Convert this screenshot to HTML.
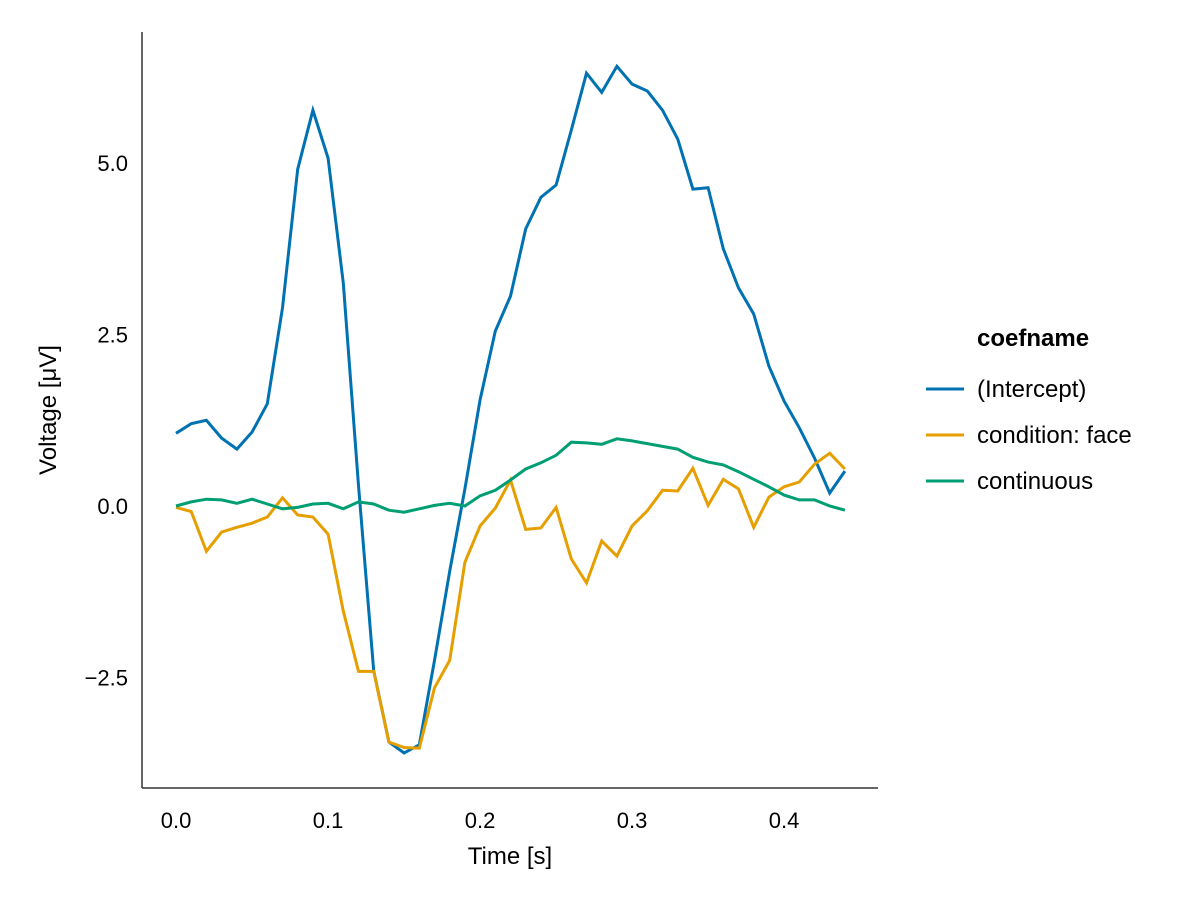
<!DOCTYPE html>
<html><head><meta charset="utf-8"><style>
body{margin:0;background:#fff;font-family:"Liberation Sans",sans-serif}
svg text{font-family:"Liberation Sans",sans-serif;fill:#000}
</style></head><body>
<svg id="chart" width="1200" height="900">
<g id="axes"></g><g id="series"></g>
<text x="510" y="864" font-size="24" text-anchor="middle">Time [s]</text>
<text transform="translate(56,410) rotate(-90)" font-size="24" text-anchor="middle">Voltage [μV]</text>
<g>
<text x="977" y="346" font-size="24" font-weight="bold">coefname</text>
<g><line x1="926" y1="389" x2="964" y2="389" stroke="#0072b2" stroke-width="3"/><text x="977" y="397" font-size="24">(Intercept)</text></g>
<g><line x1="926" y1="435" x2="964" y2="435" stroke="#e69f00" stroke-width="3"/><text x="977" y="443" font-size="24">condition: face</text></g>
<g><line x1="926" y1="481" x2="964" y2="481" stroke="#009e73" stroke-width="3"/><text x="977" y="489" font-size="24">continuous</text></g>
</g>
</svg>
<script>
const times = Array.from({length:45},(_,i)=>+(i*0.01).toFixed(2));
const intercept = [1.06,1.2,1.25,0.99,0.83,1.08,1.49,2.89,4.91,5.77,5.07,3.25,0.3,-2.4,-3.44,-3.6,-3.48,-2.25,-0.95,0.25,1.55,2.55,3.06,4.04,4.5,4.68,5.48,6.31,6.03,6.41,6.15,6.05,5.77,5.35,4.62,4.64,3.75,3.18,2.8,2.04,1.53,1.14,0.7,0.19,0.51];
const conditionFace = [-0.02,-0.08,-0.66,-0.38,-0.31,-0.25,-0.16,0.12,-0.13,-0.16,-0.41,-1.53,-2.41,-2.41,-3.44,-3.52,-3.53,-2.65,-2.25,-0.82,-0.29,-0.03,0.38,-0.34,-0.32,-0.02,-0.77,-1.12,-0.51,-0.73,-0.29,-0.07,0.23,0.22,0.55,0.01,0.39,0.25,-0.31,0.13,0.28,0.35,0.61,0.77,0.54];
const continuous = [0,0.06,0.1,0.09,0.04,0.1,0.03,-0.04,-0.02,0.03,0.04,-0.04,0.06,0.03,-0.06,-0.09,-0.04,0.01,0.04,0,0.15,0.23,0.38,0.54,0.63,0.74,0.93,0.92,0.9,0.98,0.95,0.91,0.87,0.83,0.71,0.64,0.6,0.5,0.39,0.28,0.16,0.09,0.09,0,-0.06];
const xTicks = [0,0.1,0.2,0.3,0.4];
const xTickLabels = ["0.0","0.1","0.2","0.3","0.4"];
const yTicks = [-2.5,0,2.5,5];
const yTickLabels = ["−2.5","0.0","2.5","5.0"];

const L=142,R=878,T=32,B=788;
const xMin=-0.0224,xMax=0.4618,yMin=-4.11,yMax=6.91;
const X=v=>L+(v-xMin)/(xMax-xMin)*(R-L);
const Y=v=>B-(v-yMin)/(yMax-yMin)*(B-T);
const NS="http://www.w3.org/2000/svg";
const axes=document.getElementById('axes'), ser=document.getElementById('series');
function mk(tag,attrs,parent){const e=document.createElementNS(NS,tag);for(const k in attrs)e.setAttribute(k,attrs[k]);parent.appendChild(e);return e;}
const ya=mk('line',{x1:L,y1:T,x2:L,y2:B,stroke:'#333',"stroke-width":1.5},axes);


const xa=mk('line',{x1:L,y1:B,x2:R,y2:B,stroke:'#333',"stroke-width":1.5},axes);


xTicks.forEach((t,i)=>{
  const tx=mk('text',{x:X(t),y:828,"font-size":22,"text-anchor":"middle"},axes);
  tx.textContent=xTickLabels[i];
  
  
});
yTicks.forEach((t,i)=>{
  const tx=mk('text',{x:128,y:Y(t)+8,"font-size":22,"text-anchor":"end"},axes);
  tx.textContent=yTickLabels[i];
  
  
});
function line(vals,color,name){
  const d=vals.map((v,i)=>(i?'L':'M')+X(times[i]).toFixed(1)+','+Y(v).toFixed(1)).join('');
  const p=mk('path',{d:d,fill:'none',stroke:color,"stroke-width":3,"stroke-linejoin":"miter"},ser);
  
  
}
line(intercept,'#0072b2','series-intercept');
line(conditionFace,'#e69f00','series-condition-face');
line(continuous,'#009e73','series-continuous');
</script>
</body></html>
